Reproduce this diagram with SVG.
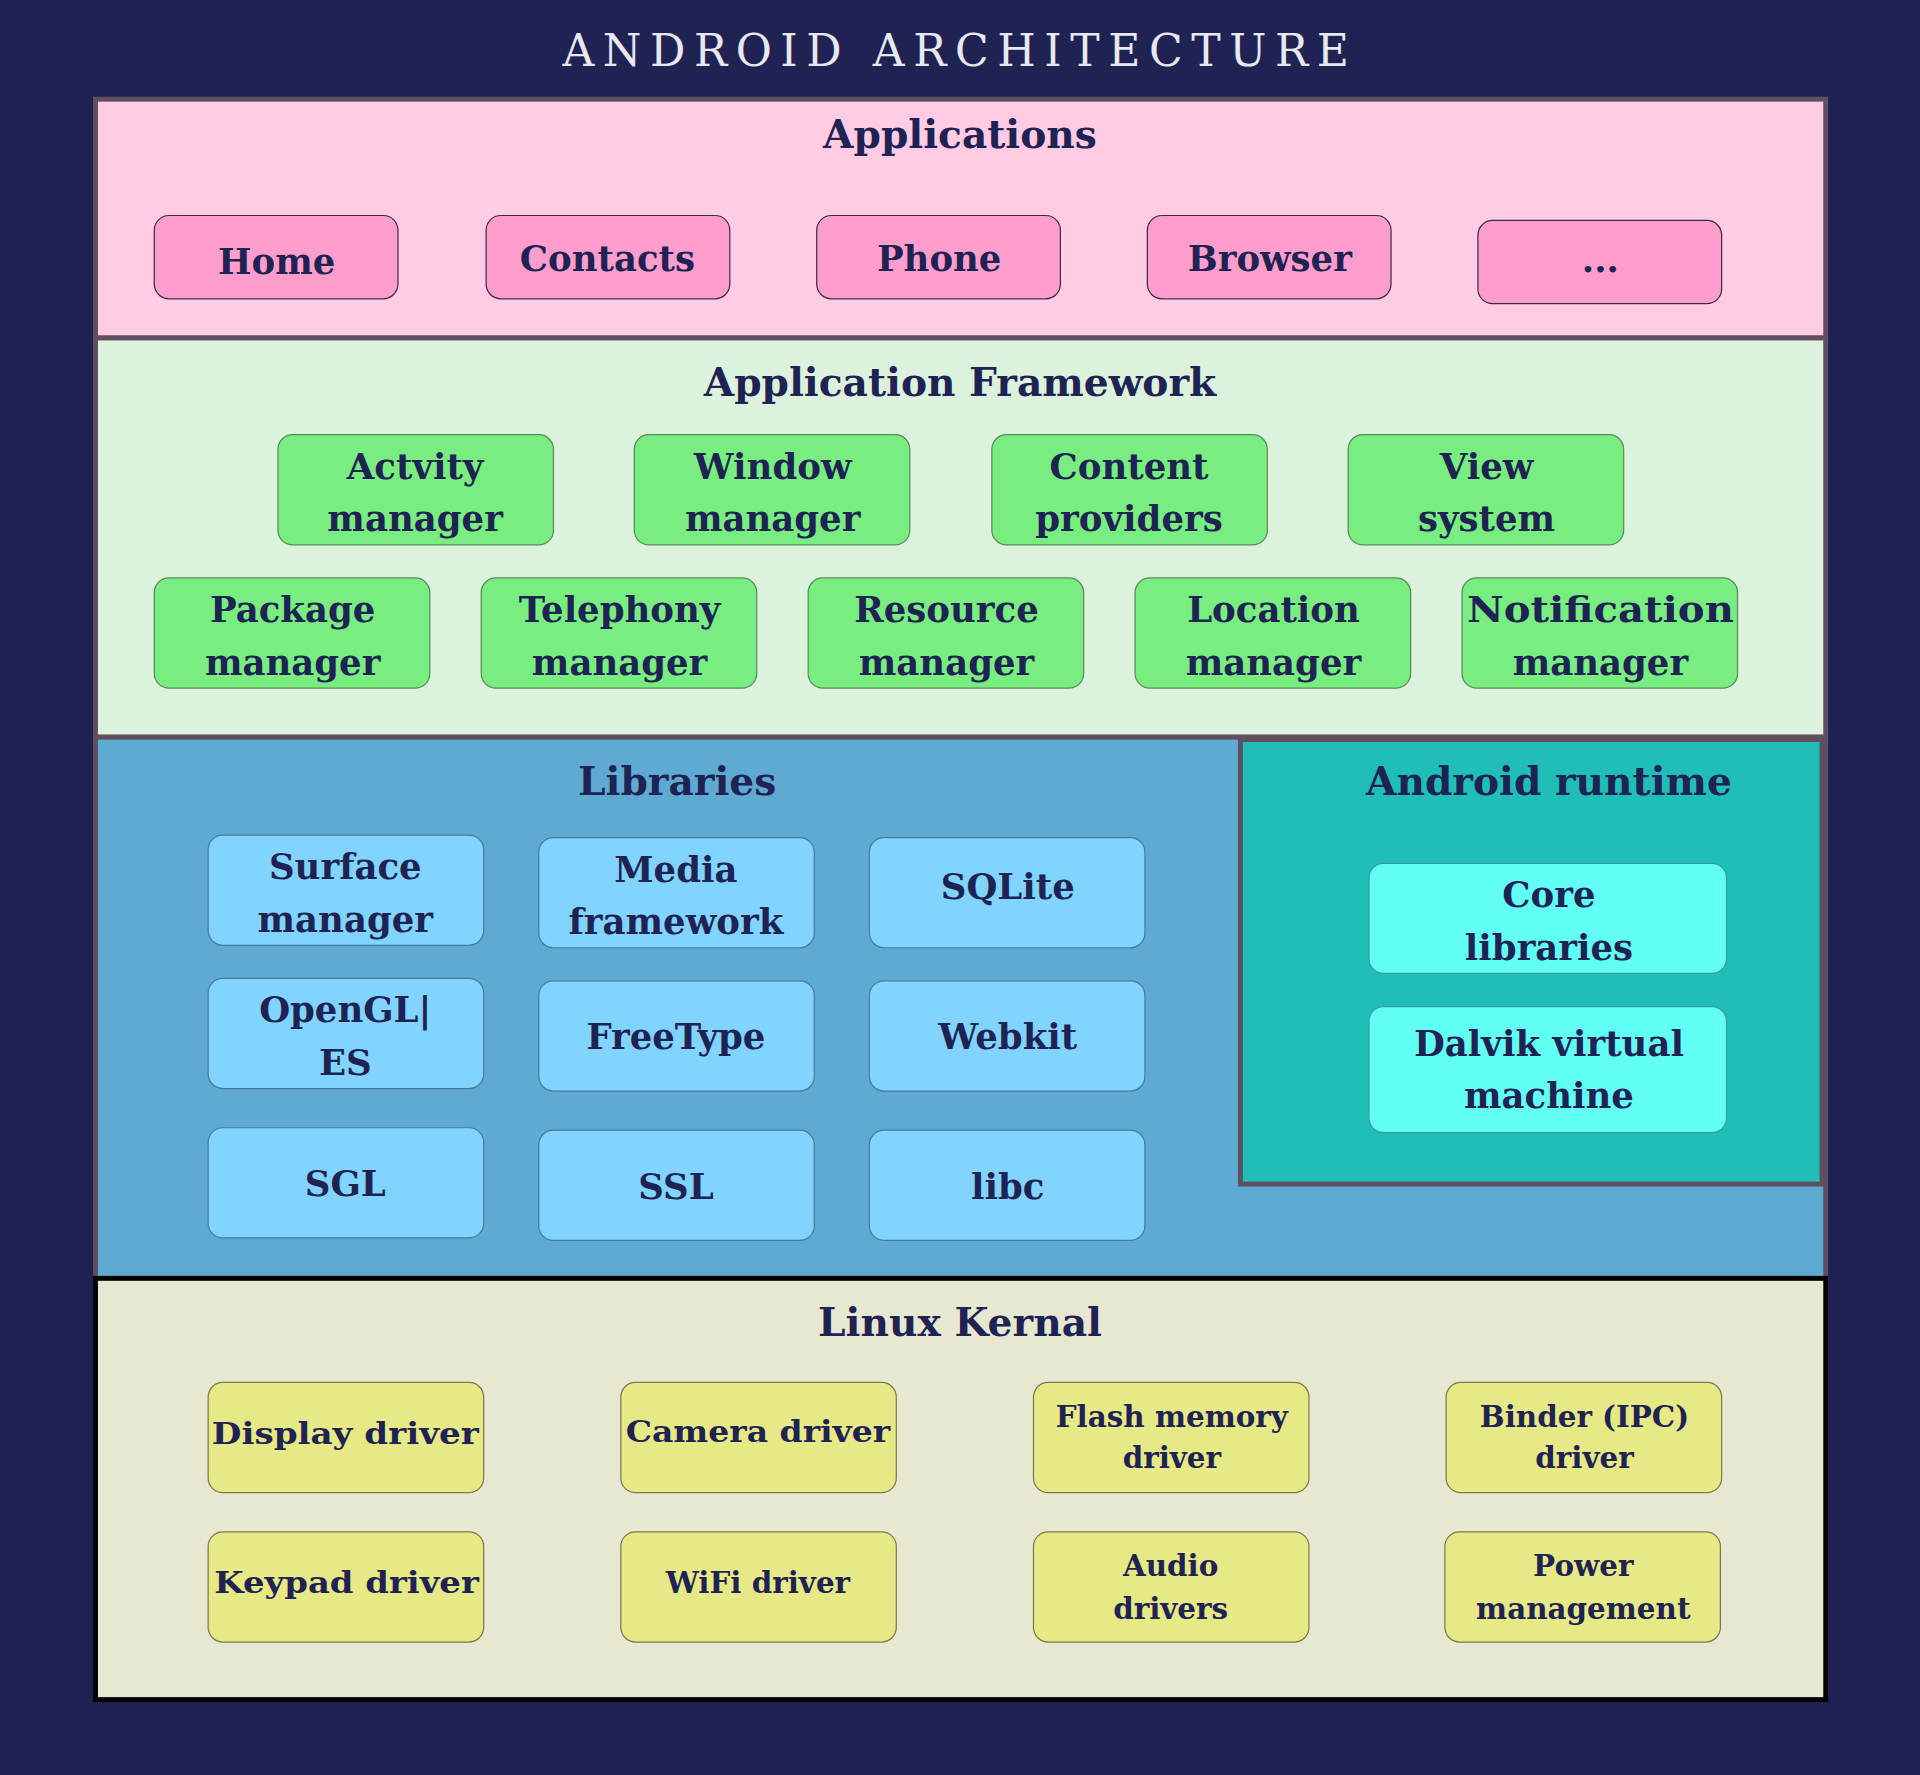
<svg xmlns="http://www.w3.org/2000/svg" width="1920" height="1775" viewBox="0 0 1920 1775">
<style>
.t{font-family:"DejaVu Serif","Liberation Serif",serif;font-weight:bold;fill:#1f2353;text-anchor:middle}
.h{font-size:32px}
.b{font-size:29px}
.s{font-size:24px}
.box{rx:12;ry:12;stroke-width:1}
.app{fill:#ff9ecc;stroke:#3a2a4a}
.fw{fill:#77ee7f;stroke:#5a8a5a}
.lib{fill:#80d4ff;stroke:#4a7a9a}
.rt{fill:#62fff4;stroke:#3a9a9a}
.lk{fill:#e6e985;stroke:#7a7a4a}
</style>
<rect width="1920" height="1775" fill="#1f2353"/>
<g transform="scale(1.22449)">
<text x="784" y="54" font-family="DejaVu Serif,Liberation Serif,serif" font-size="36" letter-spacing="7" fill="#e8e8f0" text-anchor="middle">ANDROID ARCHITECTURE</text>
<g id="applications">
<rect x="78" y="81" width="1413" height="195" fill="#ffcce4" stroke="#5f4f5f" stroke-width="4"/>
<text class="t h" x="784" y="121">Applications</text>
<g id="home"><rect class="box app" x="126" y="176" width="199" height="68"/><text class="t b" x="226" y="224">Home</text></g>
<g id="contacts"><rect class="box app" x="397" y="176" width="199" height="68"/><text class="t b" x="496" y="221">Contacts</text></g>
<g id="phone"><rect class="box app" x="667" y="176" width="199" height="68"/><text class="t b" x="767" y="221">Phone</text></g>
<g id="browser"><rect class="box app" x="937" y="176" width="199" height="68"/><text class="t b" x="1037" y="221">Browser</text></g>
<g id="more"><rect class="box app" x="1207" y="180" width="199" height="68"/><text class="t b" x="1307" y="222">...</text></g>
</g>
<g id="framework">
<rect x="78" y="276" width="1413" height="326" fill="#dcf2dc" stroke="#5f4f5f" stroke-width="4"/>
<text class="t h" x="784" y="323">Application Framework</text>
<g id="activity"><rect class="box fw" x="227" y="355" width="225" height="90"/><text class="t b" x="339" y="391">Actvity</text><text class="t b" x="339" y="434">manager</text></g>
<g id="window"><rect class="box fw" x="518" y="355" width="225" height="90"/><text class="t b" x="631" y="391">Window</text><text class="t b" x="631" y="434">manager</text></g>
<g id="content"><rect class="box fw" x="810" y="355" width="225" height="90"/><text class="t b" x="922" y="391">Content</text><text class="t b" x="922" y="434">providers</text></g>
<g id="view"><rect class="box fw" x="1101" y="355" width="225" height="90"/><text class="t b" x="1214" y="391">View</text><text class="t b" x="1214" y="434">system</text></g>
<g id="package"><rect class="box fw" x="126" y="472" width="225" height="90"/><text class="t b" x="239" y="508">Package</text><text class="t b" x="239" y="551">manager</text></g>
<g id="telephony"><rect class="box fw" x="393" y="472" width="225" height="90"/><text class="t b" x="506" y="508">Telephony</text><text class="t b" x="506" y="551">manager</text></g>
<g id="resource"><rect class="box fw" x="660" y="472" width="225" height="90"/><text class="t b" x="773" y="508">Resource</text><text class="t b" x="773" y="551">manager</text></g>
<g id="location"><rect class="box fw" x="927" y="472" width="225" height="90"/><text class="t b" x="1040" y="508">Location</text><text class="t b" x="1040" y="551">manager</text></g>
<g id="notification"><rect class="box fw" x="1194" y="472" width="225" height="90"/><text class="t b" x="1307" y="508" textLength="218" lengthAdjust="spacingAndGlyphs">Notification</text><text class="t b" x="1307" y="551">manager</text></g>
</g>
<g id="libraries">
<rect x="78" y="602" width="1413" height="442" fill="#5eaad3" stroke="#5f4f5f" stroke-width="4"/>
<text class="t h" x="553" y="649">Libraries</text>
<g id="surface"><rect class="box lib" x="170" y="682" width="225" height="90"/><text class="t b" x="282" y="718">Surface</text><text class="t b" x="282" y="761">manager</text></g>
<g id="media"><rect class="box lib" x="440" y="684" width="225" height="90"/><text class="t b" x="552" y="720">Media</text><text class="t b" x="552" y="763">framework</text></g>
<g id="sqlite"><rect class="box lib" x="710" y="684" width="225" height="90"/><text class="t b" x="823" y="734">SQLite</text></g>
<g id="opengl"><rect class="box lib" x="170" y="799" width="225" height="90"/><text class="t b" x="282" y="835">OpenGL|</text><text class="t b" x="282" y="878">ES</text></g>
<g id="freetype"><rect class="box lib" x="440" y="801" width="225" height="90"/><text class="t b" x="552" y="857">FreeType</text></g>
<g id="webkit"><rect class="box lib" x="710" y="801" width="225" height="90"/><text class="t b" x="823" y="857">Webkit</text></g>
<g id="sgl"><rect class="box lib" x="170" y="921" width="225" height="90"/><text class="t b" x="282" y="977">SGL</text></g>
<g id="ssl"><rect class="box lib" x="440" y="923" width="225" height="90"/><text class="t b" x="552" y="979">SSL</text></g>
<g id="libc"><rect class="box lib" x="710" y="923" width="225" height="90"/><text class="t b" x="823" y="979">libc</text></g>
</g>
<g id="runtime">
<rect x="1013" y="604" width="475" height="363" fill="#20beb8" stroke="#5f4f5f" stroke-width="4"/>
<text class="t h" x="1265" y="649">Android runtime</text>
<g id="core"><rect class="box rt" x="1118" y="705" width="292" height="90"/><text class="t b" x="1265" y="741">Core</text><text class="t b" x="1265" y="784">libraries</text></g>
<g id="dalvik"><rect class="box rt" x="1118" y="822" width="292" height="103"/><text class="t b" x="1265" y="862">Dalvik virtual</text><text class="t b" x="1265" y="905">machine</text></g>
</g>
<g id="kernel">
<rect x="78" y="1044" width="1413" height="344" fill="#e8e8d2" stroke="#000" stroke-width="4"/>
<text class="t h" x="784" y="1091">Linux Kernal</text>
<g id="display"><rect class="box lk" x="170" y="1129" width="225" height="90"/><text class="t s" x="282" y="1179" textLength="218" lengthAdjust="spacingAndGlyphs">Display driver</text></g>
<g id="camera"><rect class="box lk" x="507" y="1129" width="225" height="90"/><text class="t s" x="619" y="1178" textLength="216" lengthAdjust="spacingAndGlyphs">Camera driver</text></g>
<g id="flash"><rect class="box lk" x="844" y="1129" width="225" height="90"/><text class="t s" x="957" y="1165">Flash memory</text><text class="t s" x="957" y="1199">driver</text></g>
<g id="binder"><rect class="box lk" x="1181" y="1129" width="225" height="90"/><text class="t s" x="1294" y="1165">Binder (IPC)</text><text class="t s" x="1294" y="1199">driver</text></g>
<g id="keypad"><rect class="box lk" x="170" y="1251" width="225" height="90"/><text class="t s" x="283" y="1301" textLength="216" lengthAdjust="spacingAndGlyphs">Keypad driver</text></g>
<g id="wifi"><rect class="box lk" x="507" y="1251" width="225" height="90"/><text class="t s" x="619" y="1301">WiFi driver</text></g>
<g id="audio"><rect class="box lk" x="844" y="1251" width="225" height="90"/><text class="t s" x="956" y="1287">Audio</text><text class="t s" x="956" y="1322">drivers</text></g>
<g id="power"><rect class="box lk" x="1180" y="1251" width="225" height="90"/><text class="t s" x="1293" y="1287">Power</text><text class="t s" x="1293" y="1322">management</text></g>
</g>
<g id="connectors"/>
</g>
</svg>
